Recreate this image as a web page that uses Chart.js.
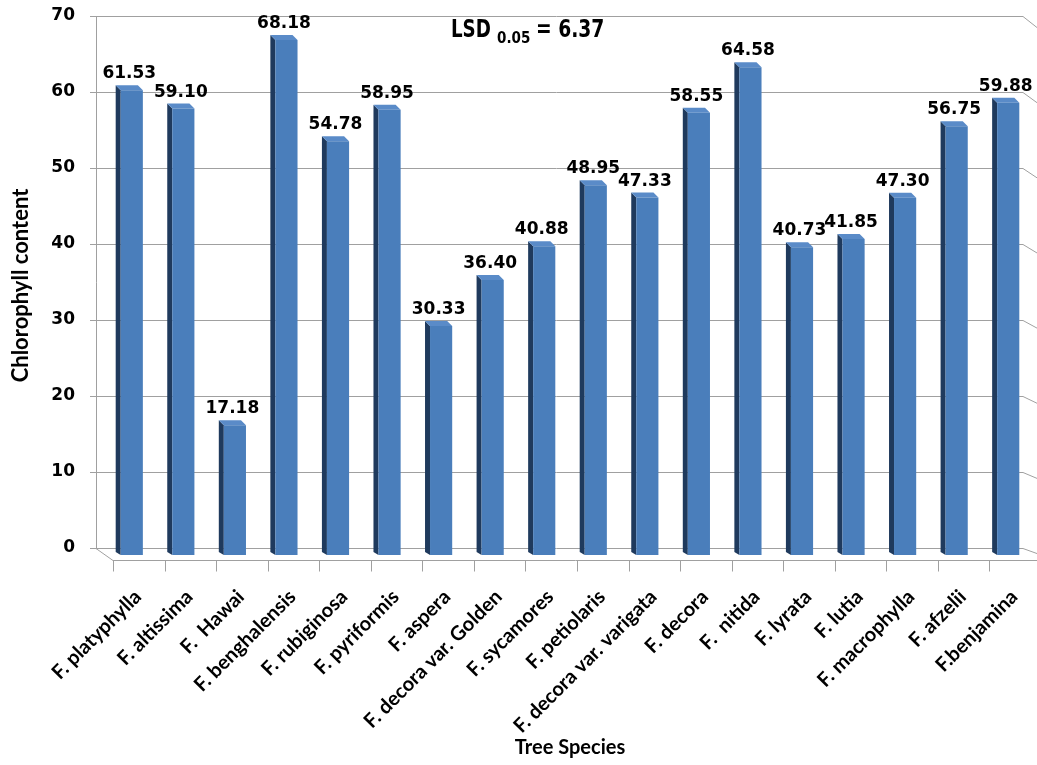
<!DOCTYPE html>
<html>
<head>
<meta charset="utf-8">
<script src="https://cdn.jsdelivr.net/npm/chart.js@4/dist/chart.umd.min.js"></script>
<style>
  html, body { margin: 0; padding: 0; background: #fff; }
</style>
</head>
<body>
<canvas id="grafico" width="1037" height="765"></canvas>
<script>
// Espécies de Ficus e teor de clorofila
const especies = [
  'F. platyphylla', 'F. altissima', 'F.  Hawai', 'F. benghalensis', 'F. rubiginosa',
  'F. pyriformis', 'F. aspera', 'F. decora var. Golden', 'F. sycamores', 'F. petiolaris',
  'F. decora var. varigata', 'F. decora', 'F.  nitida', 'F. lyrata', 'F. lutia',
  'F. macrophylla', 'F. afzelii', 'F.benjamina'
];
const clorofila = [61.53, 59.10, 17.18, 68.18, 54.78, 58.95, 30.33, 36.40, 40.88, 48.95,
                   47.33, 58.55, 64.58, 40.73, 41.85, 47.30, 56.75, 59.88];
const yTicks = [0, 10, 20, 30, 40, 50, 60, 70];
const lsd = ['LSD', '0.05', '= 6.37'];

const PROF = 5;          // profundidade das barras
const COR_FRENTE = '#4a7ebb';
const COR_LADO = '#1f3a5d';
const COR_TOPO = '#5a8bc8';
const COR_GRADE = '#a0a0a0';

// sem folgas automáticas: a área do gráfico fica onde o layout manda
const semFolga = (scale) => {
  scale.paddingTop = 0;
  scale.paddingBottom = 0;
  scale.paddingLeft = 0;
  scale.paddingRight = 0;
};

// desenha parede, chão e as faces laterais/topo das barras
const efeito3d = {
  id: 'efeito3d',
  beforeDatasetsDraw(chart) {
    const { ctx, chartArea: ca, scales } = chart;
    const parede = scales.parede;
    const xEsq = ca.left - 10, xDir = ca.right - 11;
    ctx.save();
    ctx.strokeStyle = COR_GRADE;
    ctx.lineWidth = 1;
    yTicks.forEach(v => {
      const y = Math.round(parede.getPixelForValue(v)) + 0.5;
      const incl = 0.36 + 0.43 * v / 70;
      ctx.beginPath();
      ctx.moveTo(xEsq - 6, y);
      ctx.lineTo(xDir, y);
      ctx.lineTo(xDir + 30, y + incl * 30);
      ctx.stroke();
    });
    const y0 = Math.round(parede.getPixelForValue(0)) + 0.5;
    ctx.beginPath();
    ctx.moveTo(xEsq + 0.5, parede.getPixelForValue(70));
    ctx.lineTo(xEsq + 0.5, y0);
    ctx.stroke();

    // chão
    const yFrente = Math.round(ca.bottom + 5) + 0.5;
    ctx.beginPath();
    ctx.moveTo(xEsq, y0);
    ctx.lineTo(ca.left + 7, yFrente);
    ctx.lineTo(ca.right + 10, yFrente);
    ctx.stroke();

    // marcas do eixo x
    const x = scales.x;
    const passo = (ca.right - ca.left) / especies.length;
    for (let k = 0; k <= especies.length; k++) {
      const xt = Math.round(x.getPixelForValue(k) - passo / 2 + 7) + 0.5;
      ctx.beginPath();
      ctx.moveTo(xt, yFrente);
      ctx.lineTo(xt, yFrente + 11);
      ctx.stroke();
    }

    // faces laterais e topos
    const meta = chart.getDatasetMeta(0);
    meta.data.forEach(bar => {
      const { x: bx, y, base, width } = bar.getProps(['x', 'y', 'base', 'width'], true);
      const l = bx - width / 2, r = bx + width / 2;
      ctx.fillStyle = COR_LADO;
      ctx.beginPath();
      ctx.moveTo(l, y);
      ctx.lineTo(l - PROF, y - PROF);
      ctx.lineTo(l - PROF, base - PROF + 2);
      ctx.lineTo(l, base);
      ctx.closePath();
      ctx.fill();
      ctx.fillStyle = COR_TOPO;
      ctx.beginPath();
      ctx.moveTo(l, y);
      ctx.lineTo(r, y);
      ctx.lineTo(r - PROF, y - PROF);
      ctx.lineTo(l - PROF, y - PROF);
      ctx.closePath();
      ctx.fill();
    });
    ctx.restore();
  },
  afterDatasetsDraw(chart) {
    const { ctx } = chart;
    const meta = chart.getDatasetMeta(0);
    ctx.save();
    ctx.fillStyle = '#000';
    ctx.font = 'bold 17px "DejaVu Sans"';
    ctx.textAlign = 'center';
    ctx.textBaseline = 'alphabetic';
    meta.data.forEach((bar, i) => {
      ctx.fillText(clorofila[i].toFixed(2), bar.x - PROF / 2, bar.y - 12);
    });

    // LSD 0.05 = 6.37
    const texto = (t, x, y, tam, esc) => {
      ctx.save();
      ctx.translate(x, y);
      ctx.scale(esc, 1);
      ctx.font = 'bold ' + tam + 'px "DejaVu Sans"';
      ctx.textAlign = 'left';
      ctx.fillText(t, 0, 0);
      ctx.restore();
    };
    texto(lsd[0], 451, 37, 24, 0.76);
    texto(lsd[1], 497, 43, 15, 0.9);
    texto(lsd[2], 536, 37, 24, 0.78);
    ctx.restore();
  }
};

new Chart(document.getElementById('grafico'), {
  type: 'bar',
  data: {
    labels: especies,
    datasets: [{
      data: clorofila,
      yAxisID: 'y',
      backgroundColor: COR_FRENTE,
      borderWidth: 0,
      barPercentage: 0.43,
      categoryPercentage: 1
    }]
  },
  options: {
    responsive: false,
    animation: false,
    layout: { padding: { top: 16, right: 3, left: 0, bottom: 0 } },
    plugins: { legend: { display: false }, tooltip: { enabled: false } },
    scales: {
      x: {
        grid: { display: false, drawTicks: false },
        border: { display: false },
        ticks: {
          autoSkip: false,
          minRotation: 45,
          maxRotation: 45,
          padding: 30,
          labelOffset: 6,
          color: '#000',
          font: { family: 'Lato', weight: 'bold', size: 20 }
        },
        title: {
          display: true,
          text: 'Tree Species',
          color: '#000',
          font: { family: 'Lato', weight: 'bold', size: 20 },
          padding: { top: 0, bottom: 5 }
        },
        afterFit(scale) { scale.height = 210; semFolga(scale); }
      },
      y: {
        display: false,
        min: 0,
        max: 71.36
      },
      parede: {
        position: 'left',
        min: -0.92,
        max: 70,
        grid: { display: false, drawTicks: false },
        border: { display: false },
        afterBuildTicks(scale) { scale.ticks = yTicks.map(v => ({ value: v })); },
        ticks: {
          padding: 31,
          color: '#000',
          font: { family: 'DejaVu Sans', weight: 'bold', size: 17 }
        },
        title: {
          display: true,
          text: 'Chlorophyll content',
          color: '#000',
          font: { family: 'Lato', weight: 'bold', size: 22 },
          padding: { top: 8, bottom: 0 }
        },
        afterFit(scale) { scale.width = 106; semFolga(scale); }
      }
    }
  },
  plugins: [efeito3d]
});
</script>
</body>
</html>
